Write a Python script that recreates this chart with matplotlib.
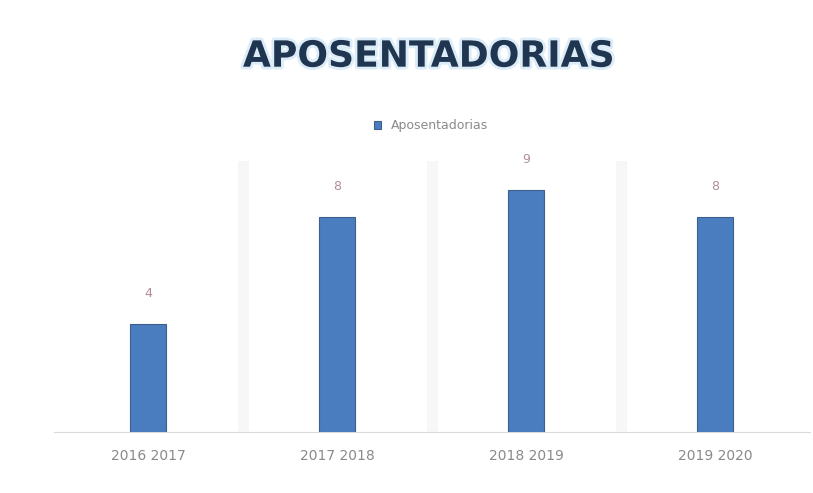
import matplotlib.pyplot as plt
import matplotlib.patheffects as pe

categorias = ["2016 2017", "2017 2018", "2018 2019", "2019 2020"]
valores = [4, 8, 9, 8]
legenda = "Aposentadorias"

fig = plt.figure(figsize=(8.13, 4.93), dpi=100)
ax = fig.add_axes([0.066, 0.124, 0.93, 0.55])

x = range(len(categorias))
barras = ax.bar(x, valores, width=0.19, color="#4a7dbf", edgecolor="#3d5f8c",
                linewidth=0.8, label=legenda, zorder=3)

for xi, v in zip(x, valores):
    ax.text(xi, v + 0.9, str(v), ha="center", va="bottom", fontsize=9, color="#b08c96")

ax.set_xlim(-0.5, len(categorias) - 0.5)
ax.set_ylim(0, 10.1)
ax.set_yticks([])
ax.set_xticks(list(x))
ax.set_xticklabels(categorias, fontsize=10, color="#8a8a8a")
ax.tick_params(axis="x", length=0, pad=12)
for s in ["top", "right", "left"]:
    ax.spines[s].set_visible(False)
ax.spines["bottom"].set_color("#d9d9d9")

# separadores verticais bem claros
for b in [0.5, 1.5, 2.5]:
    ax.axvline(b, color="#f7f7f7", lw=8, zorder=0)

fig.text(0.528, 0.885, "APOSENTADORIAS", ha="center", va="center", fontsize=26,
         fontweight="bold", color="#1f3550", family="DejaVu Sans",
         path_effects=[pe.withStroke(linewidth=4, foreground="#dcecf8")])

fig.legend(handles=[barras], labels=[legenda], loc="center", bbox_to_anchor=(0.53, 0.745),
           frameon=False, fontsize=9, handlelength=0.6, handleheight=0.6,
           labelcolor="#8a8a8a")

plt.savefig("out.png", dpi=100)
